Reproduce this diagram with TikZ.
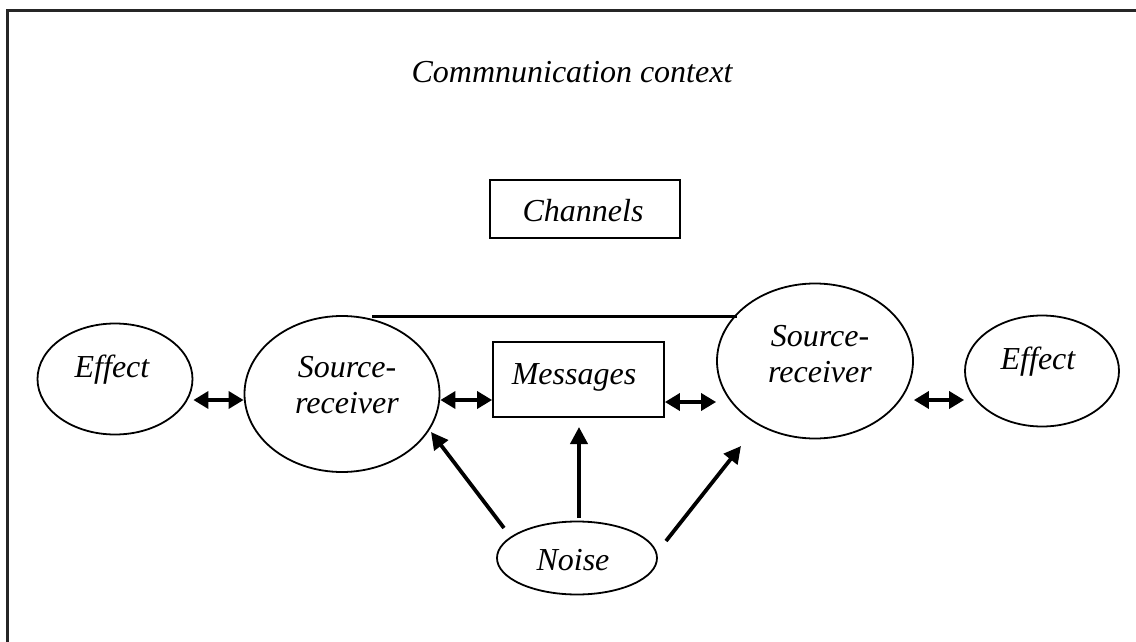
\documentclass[tikz,border=0pt]{standalone}
\usepackage{fontspec}
\setmainfont{Liberation Serif}
\usetikzlibrary{arrows.meta,shapes.geometric}
\tikzset{
  frameline/.style={line width=3pt, draw=black!85},
  ell/.style={ellipse, draw, line width=1.8pt, inner sep=0pt},
  boxnode/.style={rectangle, draw, line width=1.8pt, inner sep=0pt},
  txt/.style={inner sep=0pt, align=center, font=\fontsize{32}{36}\selectfont\itshape},
  dbl/.style={line width=3.5pt, {Triangle[length=15pt,width=17pt]}-{Triangle[length=15pt,width=17pt]}},
  sgl/.style={line width=3.8pt, -{Triangle[length=17pt,width=17pt]}},
  topline/.style={line width=3pt}
}
\begin{document}
\begin{tikzpicture}[x=1pt,y=-1pt]
\useasboundingbox (0,0) rectangle (1136,642);
\begin{scope}
\clip (0,0) rectangle (1136,642);
\draw[frameline] (7,650) -- (7,11) -- (1145,11);
\end{scope}

\node[txt] (title) at (572,72) {Commnunication context};

\node[boxnode, minimum width=190pt, minimum height=58pt] (chan) at (585,209) {};
\node[txt] (chantxt) at (583,211) {Channels};

\node[ell, minimum width=155pt, minimum height=111pt] (effl) at (115,379) {};
\node[txt] (effltxt) at (112,370) {Effect};

\node[ell, minimum width=195pt, minimum height=156pt] (srl) at (342,394) {};
\node[txt] (srltxt) at (347,385) {Source-\\receiver};

\node[boxnode, minimum width=171pt, minimum height=75pt] (msg) at (578.5,379.5) {};
\node[txt] (msgtxt) at (574,377) {Messages};

\node[ell, minimum width=196pt, minimum height=155pt] (srr) at (815,361) {};
\node[txt] (srrtxt) at (820,354) {Source-\\receiver};

\node[ell, minimum width=154pt, minimum height=111pt] (effr) at (1042,371) {};
\node[txt] (effrtxt) at (1038,362) {Effect};

\node[ell, minimum width=160pt, minimum height=73pt] (noise) at (577,558) {};
\node[txt] (noisetxt) at (573,560) {Noise};

% channel line
\coordinate (cl1) at (372,316);
\coordinate (cl2) at (737,316);
\draw[topline] (cl1) -- (cl2);

% double arrows
\coordinate (ya) at (0,400);
\coordinate (yb) at (0,402);
\draw[dbl] (effl.east |- ya) -- (srl.west |- ya);
\draw[dbl] (srl.east |- ya) -- (msg.west |- ya);
\draw[dbl] (msg.east |- yb) -- (srr.west |- yb);
\draw[dbl] (srr.east |- ya) -- (effr.west |- ya);

% noise arrows
\coordinate (n1) at (504,528);
\coordinate (t1) at (431,432);
\coordinate (n2) at (579,518);
\coordinate (t2) at (579,427);
\coordinate (n3) at (666,541);
\coordinate (t3) at (741,446);
\draw[sgl] (n1) -- (t1);
\draw[sgl] (n2) -- (t2);
\draw[sgl] (n3) -- (t3);
\end{tikzpicture}
\end{document}
